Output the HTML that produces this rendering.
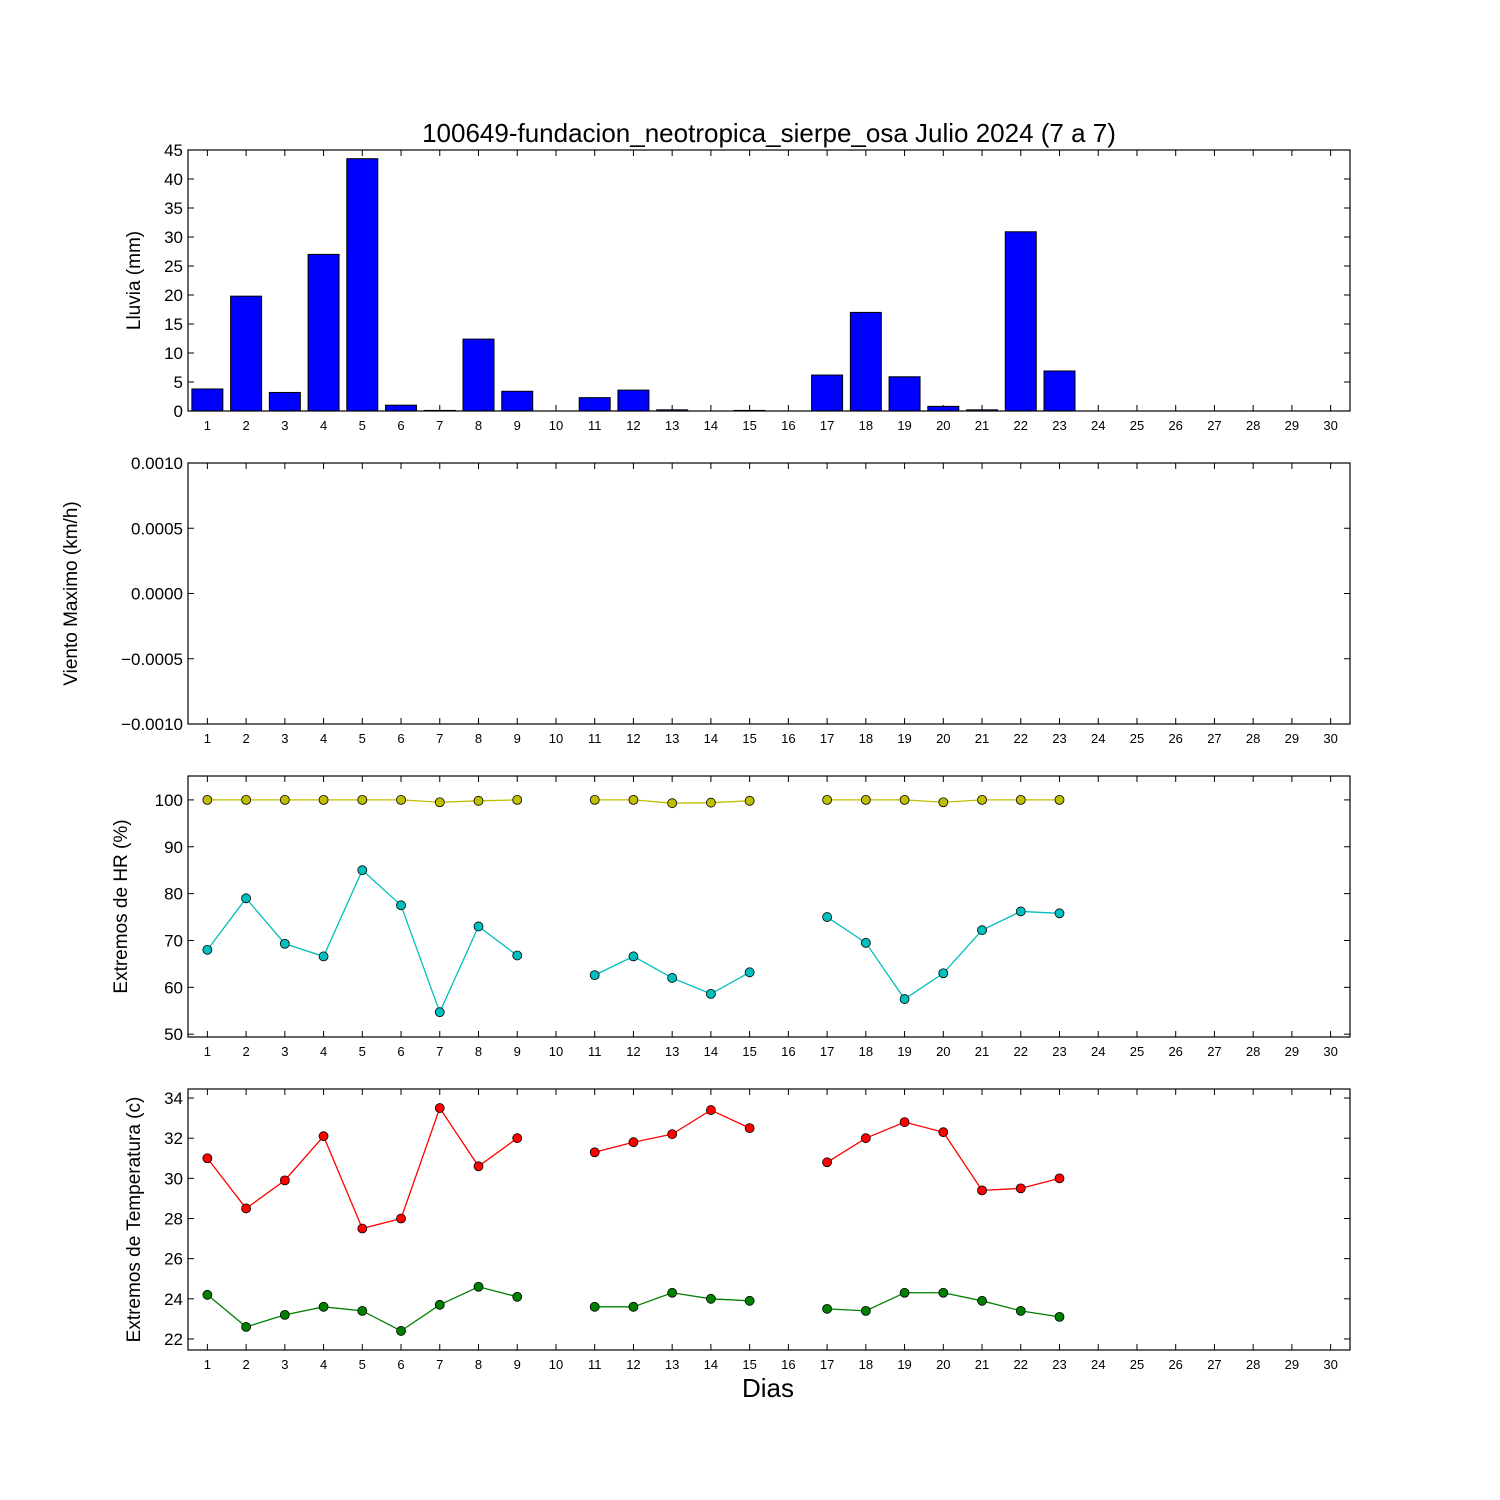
<!DOCTYPE html>
<html><head><meta charset="utf-8"><style>
html,body{margin:0;padding:0;background:#fff;}
svg{display:block;font-family:"Liberation Sans",sans-serif;}
</style></head><body>
<svg id="chart" width="1500" height="1500" viewBox="0 0 1500 1500" xmlns="http://www.w3.org/2000/svg">
<rect width="1500" height="1500" fill="#fff"/>
<text x="769" y="142" font-size="26" text-anchor="middle">100649-fundacion_neotropica_sierpe_osa Julio 2024  (7 a 7)</text>
<text x="768" y="1397" font-size="26" text-anchor="middle">Dias</text>
</svg>
<script>
const days = Array.from({length:30},(_,i)=>i+1);
const rain = [3.8,19.8,3.2,27,43.5,1.0,0.1,12.4,3.4,0,2.3,3.6,0.2,0,0.1,0,6.2,17,5.9,0.8,0.2,30.9,6.9,0,0,0,0,0,0,0];
const hrMax = [100,100,100,100,100,100,99.5,99.8,100,null,100,100,99.3,99.4,99.8,null,100,100,100,99.5,100,100,100];
const hrMin = [68,79,69.3,66.6,85,77.5,54.7,73,66.8,null,62.6,66.6,62,58.6,63.2,null,75,69.5,57.5,63,72.2,76.2,75.8];
const tMax = [31,28.5,29.9,32.1,27.5,28,33.5,30.6,32,null,31.3,31.8,32.2,33.4,32.5,null,30.8,32,32.8,32.3,29.4,29.5,30];
const tMin = [24.2,22.6,23.2,23.6,23.4,22.4,23.7,24.6,24.1,null,23.6,23.6,24.3,24,23.9,null,23.5,23.4,24.3,24.3,23.9,23.4,23.1];
const rainTicks = [0,5,10,15,20,25,30,35,40,45];
const windTicks = [-0.001,-0.0005,0,0.0005,0.001];
const windLabels = ["\u22120.0010","\u22120.0005","0.0000","0.0005","0.0010"];
const hrTicks = [50,60,70,80,90,100];
const tTicks = [22,24,26,28,30,32,34];

const svg = document.getElementById('chart');
const NS = 'http://www.w3.org/2000/svg';
const L = 188, R = 1350;
const x = d => L + (d - 0.5) * (R - L) / 30;
function mk(tag, attrs, parent){const e=document.createElementNS(NS,tag);for(const k in attrs)e.setAttribute(k,attrs[k]);(parent||svg).appendChild(e);return e;}

function panel(name, top, bot, ymin, ymax, ticks, labels, ylabel, ylx){
  const g = mk('g',{});
  
  
  const y = v => bot - (v - ymin) / (ymax - ymin) * (bot - top);
  ticks.forEach((t,i)=>{
    const yy = y(t);
    const l1 = mk('line',{x1:L,x2:L+6,y1:yy,y2:yy,stroke:'#000'},g);
    
    
    mk('line',{x1:R-6,x2:R,y1:yy,y2:yy,stroke:'#000'},g);
    const tx = mk('text',{x:L-5,y:yy+6,'font-size':17,'text-anchor':'end'},g);
    
    
    tx.textContent = labels ? labels[i] : String(t);
  });
  days.forEach(d=>{
    const xx = x(d);
    mk('line',{x1:xx,x2:xx,y1:bot,y2:bot-6,stroke:'#000'},g);
    mk('line',{x1:xx,x2:xx,y1:top,y2:top+6,stroke:'#000'},g);
    const tx = mk('text',{x:xx,y:bot+19,'font-size':13,'text-anchor':'middle'},g);
    
    
    tx.textContent = d;
  });
  const yl = mk('text',{x:ylx,y:(top+bot)/2,'font-size':19,'text-anchor':'middle',transform:`rotate(-90 ${ylx} ${(top+bot)/2})`},g);
  
  
  yl.textContent = ylabel;
  return {g, y, top, bot};
}
function frame(p, name){
  const r = mk('rect',{x:L,y:p.top,width:R-L,height:p.bot-p.top,fill:'none',stroke:'#000','stroke-width':1.2},p.g);
  
  
}
function series(p, vals, color, name){
  let seg=[];
  const segs=[];
  vals.forEach((v,i)=>{ if(v===null){ if(seg.length)segs.push(seg); seg=[]; } else seg.push([x(i+1),p.y(v)]); });
  if(seg.length)segs.push(seg);
  segs.forEach(s=>{
    const pl = mk('polyline',{points:s.map(q=>q.join(',')).join(' '),fill:'none',stroke:color,'stroke-width':1.3},p.g);
    
    
  });
  vals.forEach((v,i)=>{ if(v===null) return;
    const c = mk('circle',{cx:x(i+1),cy:p.y(v),r:4.5,fill:color,stroke:'#000','stroke-width':0.8},p.g);
    
    
  });
}

const p1 = panel('rain',150,411,0,45,rainTicks,null,'Lluvia (mm)',140);
rain.forEach((v,i)=>{
  const d=i+1, w=(R-L)/30*0.8;
  const b = mk('rect',{x:x(d)-w/2,y:p1.y(v),width:w,height:p1.y(0)-p1.y(v),fill:'#0000ff',stroke:'#000','stroke-width':1},p1.g);
  
  
});
frame(p1,'rain');

const p2 = panel('wind',463,724,-0.001,0.001,windTicks,windLabels,'Viento Maximo (km/h)',77);
frame(p2,'wind');

const p3 = panel('humidity',776,1037,49.4,105.1,hrTicks,null,'Extremos de HR (%)',127);
series(p3,hrMax,'#bfbf00','humidity-max');
series(p3,hrMin,'#00bfbf','humidity-min');
frame(p3,'humidity');

const p4 = panel('temperature',1089,1350,21.45,34.45,tTicks,null,'Extremos de Temperatura (c)',140);
series(p4,tMax,'#ff0000','temperature-max');
series(p4,tMin,'#008000','temperature-min');
frame(p4,'temperature');
</script>
</body></html>
